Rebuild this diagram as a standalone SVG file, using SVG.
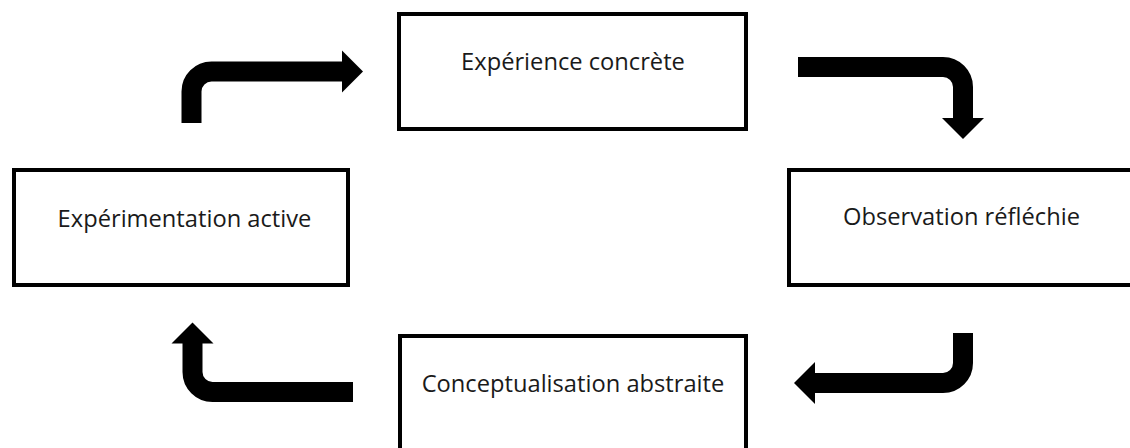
<svg xmlns="http://www.w3.org/2000/svg" width="1130" height="448" viewBox="0 0 1130 448">
<style>
.box{fill:#fff;stroke:#000;stroke-width:4}
.lbl{font-family:"Open Sans","Noto Sans","Liberation Sans",sans-serif;font-size:23.7px;fill:#1a1a1a;text-anchor:middle}
.conn{fill:none;stroke:#000;stroke-width:20;stroke-linecap:butt;marker-end:url(#head)}
</style>
<defs>
<marker id="head" markerUnits="userSpaceOnUse" viewBox="0 -22 22 44" markerWidth="22" markerHeight="44" refX="0.5" refY="0" orient="auto">
<path d="M0,-21 L21,0 L0,21 Z" fill="#000"/>
</marker>
</defs>
<rect width="1130" height="448" fill="#fff"/>
<g id="connectors">
<path class="conn" d="M191.5,123 V91.5 A20,20 0 0 1 211.5,71.5 H342.5"/>
<path class="conn" d="M798,67 H943 A20,20 0 0 1 963,87 V118.5"/>
<path class="conn" d="M963,333 V363 A20,20 0 0 1 943,383 H814.5"/>
<path class="conn" d="M353,392 H212.5 A20,20 0 0 1 192.5,372 V343"/>
</g>
<g id="node-experience">
<rect class="box" x="399" y="14" width="347" height="115"/>
<text class="lbl" x="573" y="70">Expérience concrète</text>
</g>
<g id="node-observation">
<rect class="box" x="789" y="170" width="347" height="115"/>
<text class="lbl" x="961.5" y="225">Observation réfléchie</text>
</g>
<g id="node-conceptualisation">
<rect class="box" x="400" y="336" width="346" height="120"/>
<text class="lbl" x="573" y="392">Conceptualisation abstraite</text>
</g>
<g id="node-experimentation">
<rect class="box" x="14" y="170" width="334" height="115"/>
<text class="lbl" x="184.5" y="227">Expérimentation active</text>
</g>
</svg>
